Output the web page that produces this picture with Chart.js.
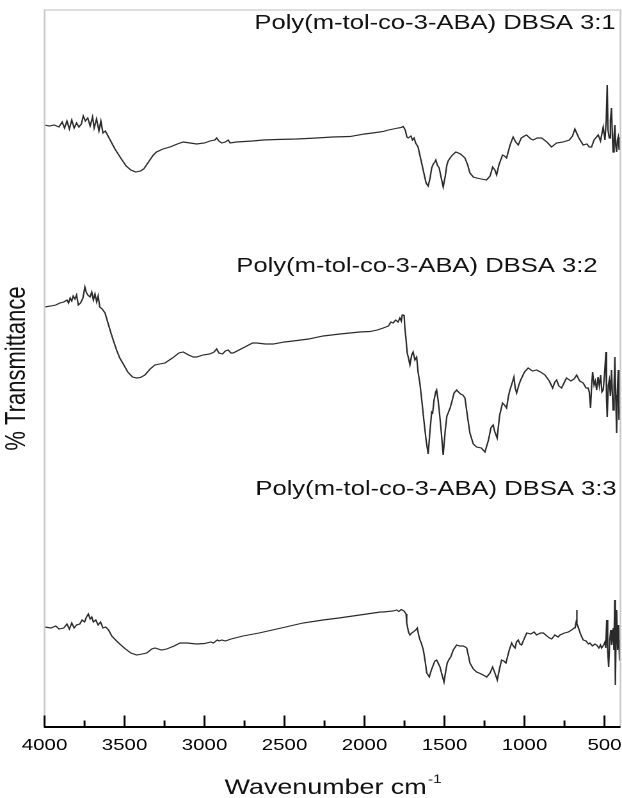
<!DOCTYPE html>
<html><head><meta charset="utf-8">
<script src="https://cdn.jsdelivr.net/npm/chart.js@4.4.1/dist/chart.umd.min.js"></script>
<style>
html,body{margin:0;padding:0;background:#fff;overflow:hidden;width:622px;height:798px;}
#wrap{position:absolute;left:0;top:0;width:486px;height:798px;transform:scaleX(1.2798);transform-origin:0 0;}
canvas{display:block;}
</style></head><body>
<div id="wrap"><canvas id="c" width="486" height="798"></canvas></div>
<script>
// ---- data ----
const seriesLabels = ['Poly(m-tol-co-3-ABA) DBSA 3:1','Poly(m-tol-co-3-ABA) DBSA 3:2','Poly(m-tol-co-3-ABA) DBSA 3:3'];
const xTickValues = [4000,3500,3000,2500,2000,1500,1000,500];
const xMinorTicks = [3750,3250,2750,2250,1750,1250,750];

const wn1 = [4000,3970,3940,3910,3890,3875,3860,3845,3830,3815,3800,3785,3770,3758,3745,3730,3715,3700,3690,3675,3660,3648,3635,3620,3600,3580,3560,3540,3520,3490,3460,3430,3400,3380,3350,3320,3300,3260,3216,3170,3133,3090,3049,3000,2966,2935,2924,2910,2893,2870,2852,2840,2800,2700,2633,2550,2424,2300,2200,2091,2000,1950,1883,1850,1820,1790,1770,1758,1745,1735,1727,1710,1700,1690,1680,1665,1654,1640,1629,1615,1602,1590,1580,1570,1560,1554,1545,1533,1520,1508,1495,1485,1477,1465,1450,1429,1400,1372,1355,1341,1320,1299,1270,1237,1215,1199,1185,1174,1160,1137,1125,1112,1090,1071,1055,1039,1020,1000,987,960,946,920,893,860,831,800,758,720,700,685,660,633,610,595,581,565,550,539,525,508,497,489,483,478,470,463,456,451,446,440,435,430,424,419,414,408,402];
const t1 = [60.2,60.1,60.2,60.0,60.5,59.9,60.6,59.8,60.7,59.9,60.4,60.0,60.3,61.1,60.6,60.9,60.1,61.0,59.9,60.8,59.6,60.6,59.4,59.6,59.0,58.4,57.8,57.3,56.8,56.1,55.7,55.5,55.6,55.8,56.5,57.2,57.5,57.8,58.0,58.3,58.5,58.4,58.3,58.4,58.6,58.7,58.9,58.6,58.4,58.5,58.7,58.4,58.5,58.6,58.7,58.75,58.8,58.9,59.0,59.05,59.3,59.4,59.55,59.7,59.8,59.9,59.95,60.05,59.7,59.0,58.9,59.1,58.7,58.9,58.4,58.0,57.2,56.2,55.4,54.4,54.1,54.9,55.9,56.3,56.5,56.7,56.2,55.9,54.9,54.0,55.1,56.2,56.6,56.9,57.2,57.5,57.3,56.9,56.2,55.4,55.0,54.9,54.8,54.7,55.1,56.0,55.7,55.2,56.2,57.2,57.1,56.9,58.2,59.0,58.5,58.2,58.9,59.1,59.2,58.8,58.7,58.9,58.9,58.5,58.0,58.4,58.5,58.7,59.1,59.8,58.9,58.2,58.3,58.0,58.0,58.7,59.0,59.2,58.6,60.0,58.7,60.7,64.2,59.7,58.9,60.7,61.9,59.2,57.5,59.2,60.2,58.2,57.5,58.7,59.0,57.7,58.2];

const wn2 = [4000,3960,3930,3904,3880,3860,3850,3840,3830,3821,3810,3800,3789,3775,3760,3748,3740,3730,3716,3705,3695,3685,3674,3665,3655,3640,3622,3600,3585,3571,3550,3530,3508,3480,3450,3424,3400,3372,3340,3310,3280,3247,3200,3160,3133,3100,3070,3049,3010,2966,2940,2924,2910,2887,2870,2852,2835,2821,2760,2700,2674,2620,2571,2500,2446,2350,2258,2154,2091,2030,1966,1920,1883,1850,1835,1821,1805,1790,1779,1770,1764,1758,1752,1748,1740,1733,1725,1716,1705,1696,1685,1674,1665,1654,1640,1629,1615,1602,1590,1580,1574,1565,1555,1549,1540,1533,1520,1508,1495,1485,1477,1465,1456,1440,1424,1400,1385,1372,1355,1341,1320,1299,1270,1247,1225,1210,1196,1185,1171,1155,1137,1125,1112,1100,1091,1075,1066,1058,1049,1035,1024,1000,977,950,924,900,872,845,824,810,799,785,768,750,737,710,690,674,655,633,615,602,595,587,580,574,565,557,549,540,532,524,516,508,500,491,487,483,476,470,463,456,451,446,440,435,430,424,419,414,409,404];
const t2 = [42.0,42.1,42.2,42.4,42.5,42.7,42.4,42.9,42.6,43.1,42.8,43.2,42.2,42.4,42.9,44.0,43.5,43.2,43.0,43.5,42.7,43.3,42.5,43.1,42.0,41.8,41.4,40.2,39.4,38.7,37.7,36.9,36.3,35.5,35.0,34.9,34.95,35.2,35.8,36.2,36.3,36.4,36.9,37.4,37.5,37.2,37.0,37.0,37.2,37.3,37.5,37.8,37.4,37.3,37.6,37.7,37.4,37.4,37.9,38.4,38.4,38.3,38.3,38.5,38.6,38.8,39.1,39.3,39.4,39.5,39.55,39.7,39.9,40.1,40.5,40.4,40.7,40.5,40.9,40.6,41.2,41.2,41.1,40.0,38.7,37.4,36.9,36.2,37.2,37.5,36.7,37.0,35.5,34.4,32.4,30.7,28.7,27.3,29.7,31.5,31.4,32.7,33.5,33.7,32.7,31.7,29.5,27.2,29.7,31.1,31.4,31.9,32.4,33.4,33.7,33.3,33.2,32.9,30.9,29.4,28.3,28.0,27.9,27.5,28.7,29.9,30.2,29.5,28.9,31.2,32.4,32.2,31.9,33.1,33.7,34.5,35.0,33.9,33.4,34.2,34.7,35.5,35.9,35.6,35.7,35.5,35.2,34.6,33.9,34.5,34.7,34.1,33.9,34.5,34.9,34.6,34.8,35.2,34.6,34.4,33.9,33.9,33.5,31.9,34.2,35.5,34.2,34.6,33.7,35.0,34.1,35.2,33.5,33.7,35.2,37.5,32.7,31.0,34.2,34.7,33.1,35.7,33.5,31.7,34.2,37.0,33.2,29.4,33.7,35.7,30.7,32.0];

const wn3 = [4000,3960,3930,3910,3880,3860,3845,3830,3815,3800,3780,3765,3750,3738,3726,3715,3705,3695,3680,3665,3650,3635,3618,3600,3580,3556,3530,3494,3460,3424,3390,3361,3330,3309,3270,3236,3190,3153,3109,3049,3000,2960,2945,2920,2909,2892,2870,2834,2760,2659,2520,2385,2260,2160,2008,1900,1883,1820,1799,1785,1770,1753,1740,1736,1725,1716,1705,1695,1680,1670,1660,1653,1645,1632,1620,1611,1595,1582,1570,1560,1549,1540,1528,1515,1503,1493,1483,1470,1461,1445,1424,1405,1383,1370,1361,1350,1341,1320,1299,1270,1236,1215,1199,1185,1170,1155,1143,1130,1116,1095,1080,1070,1059,1050,1039,1028,1018,1000,986,960,940,924,900,882,860,843,830,810,790,778,750,726,705,690,684,677,674,671,664,650,633,615,600,591,575,560,549,535,525,518,505,497,492,486,480,474,467,461,455,449,445,441,436,432,428,424,418,412,406,401];
const t3 = [10.0,9.9,10.1,9.8,9.9,10.3,9.8,10.4,9.9,10.2,10.3,10.7,10.5,11.0,11.3,10.8,11.0,10.5,10.7,10.2,10.5,9.9,10.0,9.7,9.1,8.7,8.3,7.8,7.4,7.2,7.3,7.4,7.8,7.9,7.7,7.8,8.1,8.4,8.4,8.3,8.35,8.5,8.4,8.7,8.6,8.7,8.6,8.8,9.1,9.4,9.9,10.4,10.7,10.9,11.25,11.5,11.5,11.6,11.7,11.55,11.75,11.6,11.3,10.4,9.5,9.2,9.4,9.5,9.7,9.9,9.1,8.7,8.4,7.7,6.5,5.4,5.0,5.7,6.2,6.6,6.7,6.4,6.0,5.2,4.5,5.5,6.4,6.8,7.0,7.7,8.2,8.1,8.1,8.0,7.9,7.1,6.4,5.8,5.5,5.3,5.0,5.4,6.0,5.4,4.7,5.9,6.7,6.6,6.4,7.7,8.4,8.1,7.9,8.5,8.7,8.3,8.2,8.9,9.4,9.3,9.5,9.2,9.4,9.4,9.1,8.9,8.8,9.2,9.0,9.2,9.4,9.5,9.7,9.9,9.9,10.5,11.7,10.3,10.0,9.3,8.7,8.6,8.3,8.4,8.1,8.3,8.2,7.9,8.2,7.9,8.2,8.5,7.9,10.7,7.7,6.0,8.7,9.7,8.2,9.0,9.9,7.7,12.7,4.2,8.7,11.7,7.7,10.2,6.7,8.7];

// ---- presentation ----
const FONT = "'Liberation Sans', Arial, Helvetica, sans-serif";
const labelAnchors = [{wn: 430, t: 69.8}, {wn: 543, t: 45.5}, {wn: 424, t: 23.2}];

function zip(xs, ys) {
  const n = Math.min(xs.length, ys.length);
  const out = [];
  for (let i = 0; i < n; i++) out.push({x: xs[i], y: ys[i]});
  return out;
}
const lineStyle = {borderColor: '#2a2a2a', borderWidth: 1.15, pointRadius: 0, tension: 0, fill: false};

const decor = {
  id: 'decor',
  afterDraw(chart) {
    const {ctx, chartArea: a, scales: {x, y}} = chart;
    ctx.save();
    // light frame
    ctx.strokeStyle = '#c9c9c9';
    ctx.lineWidth = 1.3;
    ctx.beginPath();
    ctx.moveTo(a.left, a.bottom); ctx.lineTo(a.left, a.top); ctx.lineTo(a.right, a.top); ctx.lineTo(a.right, a.bottom);
    ctx.stroke();
    // bottom axis
    ctx.strokeStyle = '#000';
    ctx.lineWidth = 2;
    ctx.beginPath(); ctx.moveTo(a.left - 0.5, a.bottom); ctx.lineTo(a.right, a.bottom); ctx.stroke();
    ctx.lineWidth = 1.5;
    ctx.beginPath();
    xTickValues.forEach(v => { const px = x.getPixelForValue(v); ctx.moveTo(px, a.bottom); ctx.lineTo(px, a.bottom - 11.5); });
    xMinorTicks.forEach(v => { const px = x.getPixelForValue(v); ctx.moveTo(px, a.bottom); ctx.lineTo(px, a.bottom - 6.5); });
    ctx.stroke();
    // series labels
    ctx.fillStyle = '#111';
    ctx.font = `20px ${FONT}`;
    ctx.textAlign = 'right';
    ctx.textBaseline = 'alphabetic';
    seriesLabels.forEach((s, i) => {
      const an = labelAnchors[i];
      ctx.fillText(s, x.getPixelForValue(an.wn), y.getPixelForValue(an.t));
    });
    // x-axis title with superscript
    const main = 'Wavenumber cm';
    const sup = '-1';
    ctx.font = `21px ${FONT}`;
    const w1 = ctx.measureText(main).width;
    ctx.font = `12px ${FONT}`;
    const w2 = ctx.measureText(sup).width;
    const cx = (a.left + a.right) / 2;
    const startX = cx - (w1 + w2) / 2;
    const base = a.bottom + 67;
    ctx.textAlign = 'left';
    ctx.font = `21px ${FONT}`;
    ctx.fillText(main, startX, base);
    ctx.font = `12px ${FONT}`;
    ctx.fillText(sup, startX + w1 + 1, base - 11);
    ctx.restore();
  }
};

new Chart(document.getElementById('c'), {
  type: 'line',
  data: {
    datasets: [
      Object.assign({label: seriesLabels[0], data: zip(wn1, t1)}, lineStyle),
      Object.assign({label: seriesLabels[1], data: zip(wn2, t2)}, lineStyle),
      Object.assign({label: seriesLabels[2], data: zip(wn3, t3)}, lineStyle)
    ]
  },
  options: {
    responsive: false,
    devicePixelRatio: 2,
    animation: false,
    layout: {padding: {top: 10, right: 1.2, left: 0, bottom: 0}},
    plugins: {legend: {display: false}, tooltip: {enabled: false}, title: {display: false}},
    scales: {
      x: {
        type: 'linear', reverse: true, min: 400, max: 4000,
        afterBuildTicks: s => { s.ticks = xTickValues.map(v => ({value: v})); },
        ticks: {font: {family: FONT, size: 16}, color: '#000', padding: 9, maxRotation: 0, autoSkip: false, callback: v => String(v)},
        grid: {display: false, drawTicks: false},
        border: {display: false},
        afterFit: s => { s.height = 71; s.paddingLeft = 0; s.paddingRight = 0; }
      },
      y: {
        min: 0, max: 71.7,
        ticks: {display: false},
        grid: {display: false, drawTicks: false},
        border: {display: false},
        title: {display: true, text: '% Transmittance', font: {family: FONT, size: 22}, color: '#111', padding: {top: 0, bottom: 0}},
        afterFit: s => { s.width = 34.8; }
      }
    }
  },
  plugins: [decor]
});
</script></body></html>
